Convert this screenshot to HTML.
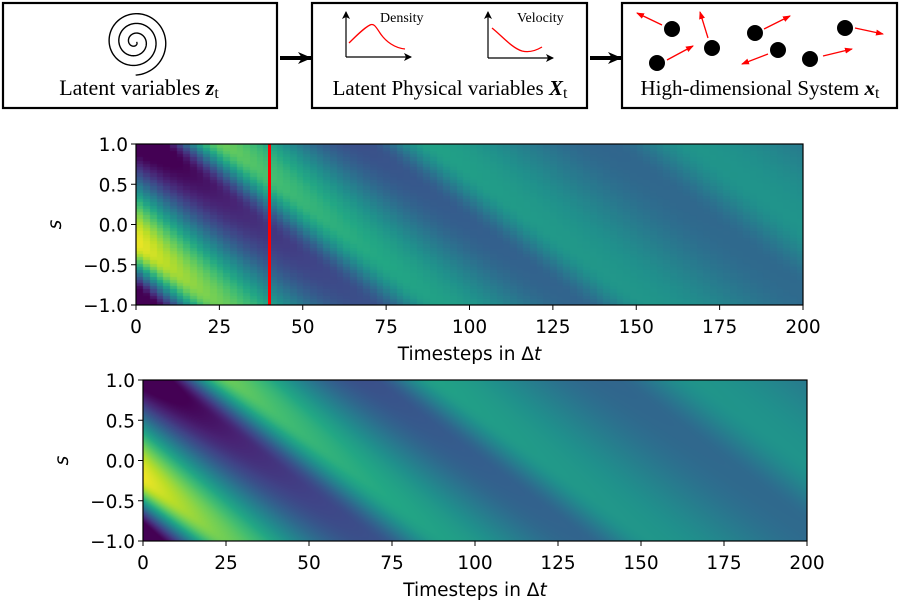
<!DOCTYPE html>
<html><head><meta charset="utf-8"><style>
html,body{margin:0;padding:0;background:#fff;width:900px;height:600px;overflow:hidden}
#c1,#c2{position:absolute}
#c1{left:136px;top:144px}
#c2{left:143px;top:380px}
svg{position:absolute;left:0;top:0}
text{font-family:"DejaVu Sans","Liberation Sans",sans-serif}
.serif{font-family:"Liberation Serif","DejaVu Serif",serif}
</style></head><body>
<canvas id="c1" width="667" height="161"></canvas>
<canvas id="c2" width="664" height="161"></canvas>
<svg width="900" height="600" viewBox="0 0 900 600">
<defs>
<marker id="ab" markerWidth="8" markerHeight="8" refX="7" refY="4" orient="auto" markerUnits="userSpaceOnUse"><path d="M0,0 L8,4 L0,8 L2,4z" fill="#000"/></marker>
<marker id="ar" markerWidth="8" markerHeight="8" refX="7" refY="4" orient="auto" markerUnits="userSpaceOnUse"><path d="M0,1 L8,4 L0,7z" fill="red"/></marker>
<marker id="abig" markerWidth="14" markerHeight="12" refX="13" refY="6" orient="auto" markerUnits="userSpaceOnUse"><path d="M0,0 L14,6 L0,12 L4,6z" fill="#000"/></marker>
</defs>
<g fill="none" stroke="#000" stroke-width="2.2">
<rect x="3" y="3" width="274" height="105"/>
<rect x="312" y="3" width="275" height="105"/>
<rect x="622" y="3" width="275" height="105"/>
</g>
<line x1="280" y1="58" x2="311" y2="58" stroke="#000" stroke-width="4" marker-end="url(#abig)"/>
<line x1="590" y1="58" x2="621" y2="58" stroke="#000" stroke-width="4" marker-end="url(#abig)"/>
<path id="sp" fill="none" stroke="#000" stroke-width="1.4"/>
<text class="serif" x="139" y="95" font-size="22" text-anchor="middle">Latent variables <tspan font-weight="bold" font-style="italic">z</tspan><tspan font-size="16" dy="3">t</tspan></text>
<text class="serif" x="450" y="95" font-size="21" text-anchor="middle">Latent Physical variables <tspan font-weight="bold" font-style="italic">X</tspan><tspan font-size="16" dy="3">t</tspan></text>
<text class="serif" x="760" y="95" font-size="21" text-anchor="middle">High-dimensional System <tspan font-weight="bold" font-style="italic">x</tspan><tspan font-size="16" dy="3">t</tspan></text>
<g stroke="#000" stroke-width="1.2" fill="none">
<line x1="346" y1="57" x2="346" y2="12" marker-end="url(#ab)"/>
<line x1="346" y1="57" x2="411" y2="57" marker-end="url(#ab)"/>
<line x1="488" y1="58" x2="488" y2="12" marker-end="url(#ab)"/>
<line x1="488" y1="58" x2="553" y2="58" marker-end="url(#ab)"/>
</g>
<path d="M349,43 C356,36 364,28 370,25 C374,23 376,27 380,33 C386,42 395,48 405,49" fill="none" stroke="red" stroke-width="1.3"/>
<path d="M492,28 C502,36 512,48 522,51 C530,53 537,50 542,47" fill="none" stroke="red" stroke-width="1.3"/>
<text class="serif" x="380" y="22" font-size="14">Density</text>
<text class="serif" x="517" y="22" font-size="14">Velocity</text>
<g fill="#000">
<circle cx="672" cy="29" r="8"/><circle cx="657" cy="63" r="8"/><circle cx="712" cy="48" r="8"/>
<circle cx="755" cy="33" r="8"/><circle cx="778" cy="50" r="8"/><circle cx="810" cy="59" r="8"/><circle cx="845" cy="28" r="8"/>
</g>
<g stroke="red" stroke-width="1.3" fill="none">
<line x1="662" y1="25" x2="637" y2="13" marker-end="url(#ar)"/>
<line x1="708" y1="38" x2="700" y2="12" marker-end="url(#ar)"/>
<line x1="667" y1="60" x2="693" y2="46" marker-end="url(#ar)"/>
<line x1="764" y1="29" x2="790" y2="16" marker-end="url(#ar)"/>
<line x1="768" y1="54" x2="742" y2="64" marker-end="url(#ar)"/>
<line x1="823" y1="56" x2="852" y2="49" marker-end="url(#ar)"/>
<line x1="855" y1="28" x2="883" y2="34" marker-end="url(#ar)"/>
</g>
<line x1="269.5" y1="144" x2="269.5" y2="305" stroke="red" stroke-width="3"/>
<g id="axes"></g>
</svg>
<script>
(function(){var d="",cx=135,cy=42;for(var a=0;a<=6.5*Math.PI;a+=0.05){var r=1.5+a*1.55;var x=cx+r*Math.cos(a),y=cy+r*Math.sin(a);d+=(d?"L":"M")+x.toFixed(2)+","+y.toFixed(2);}document.getElementById("sp").setAttribute("d",d);})();
var V=[[68,1,84],[72,35,116],[64,67,135],[52,94,141],[41,120,142],[32,144,140],[34,167,132],[68,190,112],[121,209,81],[189,222,38],[253,231,37]];
function vir(v){v=Math.max(0,Math.min(1,v))*10;var i=Math.min(9,Math.floor(v)),f=v-i,a=V[i],b=V[i+1];return[a[0]+(b[0]-a[0])*f,a[1]+(b[1]-a[1])*f,a[2]+(b[2]-a[2])*f];}
var T=[-110,-39,27,89,167,250];
function field(t,s){var v=0.031;var tau=t-(1-s)/v;var k=0;while(k<T.length-2&&tau>T[k+1])k++;var f=(tau-T[k])/(T[k+1]-T[k]);f=Math.max(0,Math.min(1,f));
var g=f<0.68?0.5*f/0.68:0.5+0.5*(f-0.68)/0.32;var A=0.08+0.47*Math.exp(-t/45);return 0.43+A*Math.cos(2*Math.PI*g);}
function draw(id,W,H,px){var c=document.getElementById(id),g=c.getContext("2d"),im=g.createImageData(W,H);
for(var y=0;y<H;y++)for(var x=0;x<W;x++){var t=x/W*200,s=1-2*y/H;if(px){t=Math.floor(t/2)*2+1;s=Math.floor(s*25)/25+0.02;}var col=vir(field(t,s)),k=(y*W+x)*4;im.data[k]=col[0];im.data[k+1]=col[1];im.data[k+2]=col[2];im.data[k+3]=255;}
g.putImageData(im,0,0);}
draw("c1",667,161,true);draw("c2",664,161,false);
var out="";
function ax(x0,x1,y0,y1){
out+='<rect x="'+x0+'" y="'+y0+'" width="'+(x1-x0)+'" height="'+(y1-y0)+'" fill="none" stroke="#000" stroke-width="1.2"/>';
for(var i=0;i<=8;i++){var x=x0+(x1-x0)*i/8;out+='<line x1="'+x+'" y1="'+y1+'" x2="'+x+'" y2="'+(y1+5)+'" stroke="#000"/><text x="'+x+'" y="'+(y1+28)+'" font-size="18.5" text-anchor="middle">'+(i*25)+'</text>';}
var yl=["1.0","0.5","0.0","\u22120.5","\u22121.0"];
for(var j=0;j<5;j++){var y=y0+(y1-y0)*j/4;out+='<line x1="'+(x0-5)+'" y1="'+y+'" x2="'+x0+'" y2="'+y+'" stroke="#000"/><text x="'+(x0-8)+'" y="'+(y+7)+'" font-size="18.5" text-anchor="end">'+yl[j]+'</text>';}
out+='<text x="'+((x0+x1)/2)+'" y="'+(y1+55)+'" font-size="18.5" text-anchor="middle">Timesteps in \u0394<tspan font-style="italic">t</tspan></text>';
out+='<text transform="translate('+(x0-75)+','+((y0+y1)/2)+') rotate(-90)" font-size="18.5" font-style="italic" text-anchor="middle">s</text>';}
ax(136,803,144,305);ax(143,807,380,541);
document.getElementById("axes").innerHTML=out;
</script>
</body></html>
